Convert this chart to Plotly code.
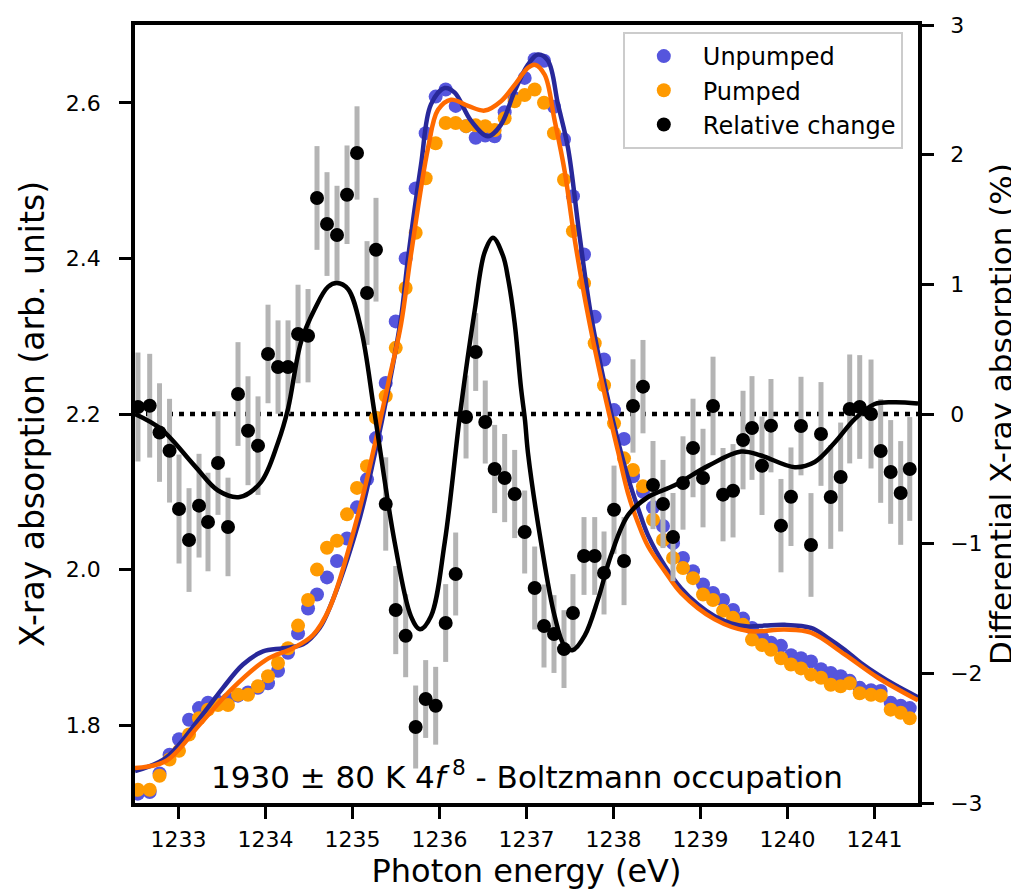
import plotly.graph_objects as go

# ---------------- data ----------------
energy = [1232.534, 1232.669, 1232.782, 1232.897, 1233.006, 1233.121, 1233.236, 1233.339,
          1233.454, 1233.569, 1233.684, 1233.799, 1233.914, 1234.029, 1234.144, 1234.259,
          1234.374, 1234.489, 1234.592, 1234.707, 1234.822, 1234.937, 1235.052, 1235.167,
          1235.270, 1235.382, 1235.497, 1235.611, 1235.726, 1235.841, 1235.956, 1236.071,
          1236.186, 1236.305, 1236.416, 1236.526, 1236.634, 1236.749, 1236.864, 1236.979,
          1237.094, 1237.201, 1237.316, 1237.431, 1237.534, 1237.661, 1237.784, 1237.891,
          1238.006, 1238.121, 1238.224, 1238.339, 1238.454, 1238.569, 1238.684, 1238.799,
          1238.914, 1239.029, 1239.144, 1239.259, 1239.374, 1239.489, 1239.592, 1239.707,
          1239.810, 1239.925, 1240.040, 1240.155, 1240.270, 1240.385, 1240.497, 1240.611,
          1240.715, 1240.830, 1240.960, 1241.071, 1241.186, 1241.301, 1241.405]

unpumped = [1.712, 1.714, 1.738, 1.762, 1.782, 1.807, 1.822, 1.829, 1.830, 1.833,
            1.838, 1.842, 1.848, 1.854, 1.870, 1.893, 1.918, 1.950, 1.968, 1.990,
            2.011, 2.040, 2.080, 2.116, 2.169, 2.240, 2.319, 2.400, 2.490, 2.561,
            2.608, 2.617, 2.596, 2.570, 2.555, 2.558, 2.557, 2.588, 2.606, 2.632,
            2.656, 2.654, 2.595, 2.553, 2.480, 2.405, 2.325, 2.270, 2.205, 2.168,
            2.120, 2.100, 2.080, 2.056, 2.034, 2.015, 1.998, 1.981, 1.970, 1.961,
            1.948, 1.937, 1.925, 1.913, 1.906, 1.902, 1.890, 1.886, 1.882, 1.872,
            1.867, 1.863, 1.857, 1.848, 1.845, 1.844, 1.829, 1.825, 1.822]

pumped = [1.717, 1.717, 1.735, 1.756, 1.767, 1.788, 1.809, 1.820, 1.826, 1.826,
          1.839, 1.839, 1.850, 1.863, 1.880, 1.899, 1.928, 1.961, 2.000, 2.028,
          2.037, 2.071, 2.105, 2.133, 2.195, 2.223, 2.285, 2.362, 2.433, 2.503,
          2.548, 2.574, 2.574, 2.570, 2.571, 2.570, 2.565, 2.580, 2.602, 2.610,
          2.617, 2.600, 2.561, 2.501, 2.435, 2.368, 2.291, 2.237, 2.188, 2.143,
          2.128, 2.107, 2.064, 2.038, 2.015, 2.002, 1.989, 1.968, 1.961, 1.947,
          1.938, 1.929, 1.910, 1.903, 1.897, 1.886, 1.878, 1.873, 1.865, 1.861,
          1.852, 1.850, 1.854, 1.841, 1.839, 1.838, 1.820, 1.816, 1.809]

rel_change = [0.054, 0.064, -0.143, -0.283, -0.733, -0.972, -0.707, -0.833, -0.378, -0.871,
              0.154, -0.129, -0.244, 0.463, 0.362, 0.362, 0.617, 0.604, 1.666, 1.465,
              1.380, 1.691, 2.013, 0.933, 1.267, -0.694, -1.512, -1.710, -2.414, -2.198,
              -2.250, -1.612, -1.234, -0.023, 0.478, -0.062, -0.424, -0.494, -0.617, -0.910,
              -1.342, -1.635, -1.697, -1.813, -1.535, -1.095, -1.095, -1.226, -0.738, -1.134,
              0.062, 0.211, -0.548, -0.694, -0.949, -0.532, -0.262, -0.494, 0.062, -0.622,
              -0.592, -0.201, -0.108, -0.399, -0.090, -0.861, -0.638, -0.093, -1.010, -0.154,
              -0.640, -0.486, 0.039, 0.054, 0.000, -0.285, -0.447, -0.609, -0.424]

rel_error = [0.42, 0.40, 0.38, 0.40,
             0.42, 0.40, 0.40, 0.38, 0.40, 0.38, 0.40, 0.42, 0.38,
             0.38, 0.36, 0.36, 0.38, 0.36, 0.40, 0.40, 0.38, 0.38, 0.36, 0.40, 0.40,
             0.36, 0.34, 0.32, 0.32, 0.30, 0.30, 0.30, 0.32, 0.32, 0.30, 0.32, 0.34,
             0.34, 0.34, 0.32, 0.32, 0.32, 0.30, 0.30, 0.30,
             0.30, 0.30, 0.32, 0.34, 0.34, 0.36, 0.36, 0.34, 0.34, 0.34, 0.36, 0.38,
             0.38, 0.38, 0.36, 0.36, 0.38, 0.40, 0.38, 0.36, 0.36, 0.38, 0.38, 0.40,
             0.40, 0.40, 0.42, 0.42, 0.40, 0.42, 0.40, 0.40, 0.40, 0.40]

# fitted curves (control points)
fit_unpumped_x = [1232.50, 1232.856, 1233.244, 1233.511, 1233.741, 1233.971, 1234.201, 1234.431,
                  1234.623, 1234.738, 1235.063, 1235.255, 1235.408, 1235.557, 1235.638, 1235.787,
                  1235.902, 1236.060, 1236.175, 1236.362, 1236.557, 1236.707, 1236.864, 1237.017,
                  1237.132, 1237.247, 1237.362, 1237.477, 1237.603, 1237.741, 1237.914, 1238.052,
                  1238.167, 1238.282, 1238.397, 1238.589, 1238.776, 1238.971, 1239.163, 1239.351,
                  1239.546, 1239.738, 1239.968, 1240.270, 1240.466, 1240.657, 1240.845, 1241.040,
                  1241.232, 1241.50]
fit_unpumped_y = [1.741, 1.758, 1.809, 1.848, 1.878, 1.895, 1.899, 1.904,
                  1.925, 1.951, 2.058, 2.148, 2.230, 2.323, 2.400, 2.520,
                  2.598, 2.619, 2.613, 2.577, 2.557, 2.572, 2.615, 2.649,
                  2.662, 2.654, 2.598, 2.542, 2.435, 2.327, 2.230, 2.165,
                  2.118, 2.079, 2.044, 2.005, 1.976, 1.955, 1.940, 1.931,
                  1.927, 1.928, 1.929, 1.925, 1.912, 1.897, 1.880, 1.865,
                  1.852, 1.836]

fit_pumped_x = [1232.50, 1232.856, 1233.244, 1233.626, 1234.006, 1234.316, 1234.546, 1234.738,
                1235.063, 1235.255, 1235.408, 1235.557, 1235.672, 1235.868, 1235.983, 1236.132,
                1236.328, 1236.519, 1236.707, 1236.864, 1237.017, 1237.094, 1237.209, 1237.324,
                1237.439, 1237.546, 1237.707, 1237.899, 1238.052, 1238.167, 1238.282, 1238.397,
                1238.589, 1238.776, 1239.163, 1239.546, 1239.968, 1240.270, 1240.657, 1241.040,
                1241.50]
fit_pumped_y = [1.745, 1.754, 1.801, 1.848, 1.884, 1.899, 1.916, 1.951,
                2.070, 2.160, 2.238, 2.315, 2.405, 2.542, 2.591, 2.604,
                2.596, 2.590, 2.602, 2.623, 2.645, 2.649, 2.636, 2.577,
                2.512, 2.430, 2.327, 2.225, 2.152, 2.098, 2.060, 2.030,
                1.998, 1.970, 1.936, 1.921, 1.923, 1.919, 1.891, 1.861,
                1.832]

fit_rel_x = [1232.50, 1232.799, 1233.186, 1233.454, 1233.703, 1233.948, 1234.144, 1234.259,
             1234.408, 1234.566, 1234.718, 1234.822, 1234.948, 1235.098, 1235.255, 1235.485,
             1235.672, 1235.776, 1235.902, 1236.060, 1236.244, 1236.405, 1236.520, 1236.615,
             1236.730, 1236.787, 1236.864, 1236.937, 1236.983, 1237.017, 1237.167, 1237.324,
             1237.439, 1237.534, 1237.669, 1237.822, 1237.971, 1238.167, 1238.397, 1238.703,
             1239.087, 1239.466, 1239.695, 1240.083, 1240.313, 1240.543, 1240.772, 1241.002,
             1241.232, 1241.50]
fit_rel_y = [0.00, -0.116, -0.40, -0.59, -0.64, -0.525, -0.22, 0.04,
             0.555, 0.81, 0.98, 1.01, 0.964, 0.656, 0.00, -0.99,
             -1.56, -1.66, -1.56, -0.99, 0.04, 0.80, 1.25, 1.36,
             1.22, 1.05, 0.70, 0.20, -0.05, -0.30, -0.99, -1.56,
             -1.79, -1.82, -1.71, -1.43, -1.09, -0.78, -0.64, -0.55,
             -0.40, -0.29, -0.32, -0.41, -0.37, -0.22, -0.04, 0.077,
             0.09, 0.08]

x_ticks = [1233, 1234, 1235, 1236, 1237, 1238, 1239, 1240, 1241]
left_ticks = [1.8, 2.0, 2.2, 2.4, 2.6]
left_ticktext = ["1.8", "2.0", "2.2", "2.4", "2.6"]
right_ticks = [-3, -2, -1, 0, 1, 2, 3]
right_ticktext = ["\u22123", "\u22122", "\u22121", "0", "1", "2", "3"]

for arr in (unpumped, pumped, rel_change, rel_error):
    assert len(arr) == len(energy)

FONT = "DejaVu Sans"
C_UNP = "#5555dd"
C_PMP = "#ff9a00"
C_UNP_FIT = "#28289a"
C_PMP_FIT = "#ff6a00"

fig = go.Figure()

fig.add_trace(go.Scatter(x=energy, y=unpumped, mode="markers", name="Unpumped",
                         marker=dict(color=C_UNP, size=14, line=dict(width=0))))
fig.add_trace(go.Scatter(x=energy, y=pumped, mode="markers", name="Pumped",
                         marker=dict(color=C_PMP, size=14, line=dict(width=0))))
fig.add_trace(go.Scatter(x=fit_unpumped_x, y=fit_unpumped_y, mode="lines", showlegend=False,
                         line=dict(color=C_UNP_FIT, width=4.5, shape="spline", smoothing=1.0)))
fig.add_trace(go.Scatter(x=fit_pumped_x, y=fit_pumped_y, mode="lines", showlegend=False,
                         line=dict(color=C_PMP_FIT, width=4.5, shape="spline", smoothing=1.0)))

fig.add_trace(go.Scatter(x=energy, y=rel_change, mode="markers", name="Relative change",
                         yaxis="y2",
                         marker=dict(color="black", size=14, line=dict(width=0)),
                         error_y=dict(type="data", array=rel_error, visible=True,
                                      color="#b4b4b4", thickness=5, width=0)))
fig.add_trace(go.Scatter(x=fit_rel_x, y=fit_rel_y, mode="lines", showlegend=False, yaxis="y2",
                         line=dict(color="black", width=4.5, shape="spline", smoothing=1.0)))

# dotted zero line of the differential axis
fig.add_shape(type="line", xref="paper", x0=0, x1=1, yref="y2", y0=0, y1=0,
              line=dict(color="black", width=4.5, dash="5px,6px"), layer="below")

fig.add_annotation(text="1930 \u00b1 80 K 4<i>f</i>\u2009<sup>8</sup> - Boltzmann occupation",
                   xref="paper", yref="paper", x=0.5, y=0.036, xanchor="center", yanchor="middle",
                   showarrow=False, font=dict(family=FONT, size=31, color="black"))

axis_common = dict(showgrid=False, zeroline=False, showline=True, linecolor="black",
                   linewidth=3.5, ticks="outside", ticklen=12, tickwidth=3, tickcolor="black",
                   automargin=False,
                   tickfont=dict(family=FONT, size=22, color="black"))

fig.update_layout(
    width=1019, height=895,
    margin=dict(l=127, r=109, t=17, b=100, autoexpand=False),
    paper_bgcolor="white", plot_bgcolor="white",
    font=dict(family=FONT, color="black"),
    xaxis=dict(range=[1232.5, 1241.5], tickvals=x_ticks, mirror=True,
               ticklabelstandoff=2,
               title=dict(text="Photon energy (eV)", font=dict(family=FONT, size=32), standoff=6),
               **axis_common),
    yaxis=dict(range=[1.7, 2.7], tickvals=left_ticks, ticktext=left_ticktext,
               ticklabelstandoff=14,
               title=dict(text="X-ray absorption (arb. units)", font=dict(family=FONT, size=33), standoff=12),
               **axis_common),
    yaxis2=dict(range=[-3, 3], tickvals=right_ticks, ticktext=right_ticktext,
                overlaying="y", side="right", ticklabelstandoff=12,
                title=dict(text="Differential X-ray absorption (%)", font=dict(family=FONT, size=31), standoff=2),
                **axis_common),
    legend=dict(x=0.623, y=0.991, xanchor="left", yanchor="top",
                font=dict(family=FONT, size=24, color="black"),
                bgcolor="rgba(255,255,255,0.8)", bordercolor="#cccccc", borderwidth=2,
                itemwidth=68, traceorder="normal"),
    showlegend=True,
)

fig.write_html("out.html")
